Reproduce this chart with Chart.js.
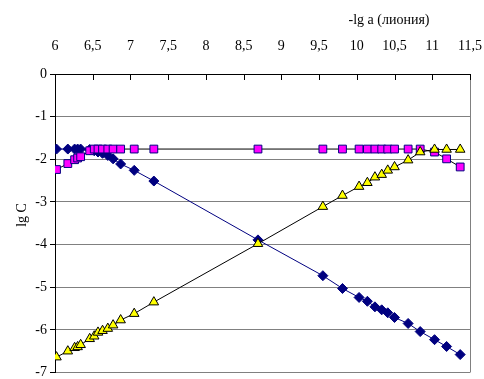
<!DOCTYPE html>
<html>
<head>
<meta charset="utf-8">
<script src="https://cdn.jsdelivr.net/npm/chart.js@4/dist/chart.umd.min.js"></script>
<style>
  html, body { margin: 0; padding: 0; background: #fff; }
  #wrap { width: 484px; height: 379px; }
</style>
</head>
<body>
<div id="wrap"><canvas id="c" width="484" height="379"></canvas></div>
<script>
// -lg a values shared by all three series
const lgA = [6.02, 6.17, 6.26, 6.30, 6.34, 6.46, 6.52, 6.57, 6.63, 6.70, 6.77, 6.87, 7.05, 7.31,
             8.69, 9.55, 9.81, 10.03, 10.14, 10.24, 10.33, 10.41, 10.50, 10.68, 10.84, 11.03, 11.19, 11.37];

// lg C for each series
const seriesDiamond = [-1.76, -1.76, -1.76, -1.76, -1.76, -1.77, -1.80, -1.83, -1.86, -1.91, -1.99, -2.11, -2.26, -2.51,
                       -3.89, -4.73, -5.03, -5.24, -5.33, -5.46, -5.53, -5.60, -5.71, -5.85, -6.04, -6.23, -6.39, -6.58];
const seriesSquare  = [-2.24, -2.10, -2.01, -1.97, -1.94, -1.80, -1.76, -1.76, -1.76, -1.76, -1.76, -1.76, -1.76, -1.76,
                       -1.76, -1.76, -1.76, -1.76, -1.76, -1.76, -1.76, -1.76, -1.76, -1.76, -1.76, -1.83, -1.99, -2.18];
const seriesTriangle = [-6.64, -6.50, -6.42, -6.40, -6.35, -6.21, -6.15, -6.06, -6.02, -5.97, -5.89, -5.77, -5.62, -5.35,
                        -3.98, -3.11, -2.85, -2.64, -2.55, -2.42, -2.36, -2.26, -2.18, -2.02, -1.83, -1.77, -1.77, -1.77];

// axis ticks
const xTicks = [6, 6.5, 7, 7.5, 8, 8.5, 9, 9.5, 10, 10.5, 11, 11.5];
const yTicks = [0, -1, -2, -3, -4, -5, -6, -7];

const xTitle = '-lg a (лиония)';
const yTitle = 'lg C';

const FONT = '"Liberation Serif", "Times New Roman", serif';

function points(ys) { return lgA.map((x, i) => ({ x: x, y: ys[i] })); }

function noOverflow(scale) {
  scale.paddingLeft = 0;
  scale.paddingRight = 0;
  scale.paddingTop = 0;
  scale.paddingBottom = 0;
}

// inward ticks on the top axis, right frame line and axis titles
const decorations = {
  id: 'decorations',
  afterDatasetsDraw(chart) {
    const ctx = chart.ctx;
    const a = chart.chartArea;
    const xs = chart.scales.x;
    ctx.save();
    ctx.strokeStyle = '#808080';
    ctx.lineWidth = 1;
    ctx.beginPath();
    ctx.moveTo(Math.round(a.right) + 0.5, a.top);
    ctx.lineTo(Math.round(a.right) + 0.5, a.bottom);
    ctx.stroke();
    ctx.strokeStyle = '#000';
    ctx.beginPath();
    xTicks.forEach(v => {
      const px = Math.round(xs.getPixelForValue(v)) + 0.5;
      ctx.moveTo(px, a.top);
      ctx.lineTo(px, a.top + 6);
    });
    ctx.stroke();
    ctx.fillStyle = '#000';
    ctx.font = '14px ' + FONT;
    ctx.textAlign = 'center';
    ctx.textBaseline = 'middle';
    ctx.fillText(xTitle, 389, 20);
    ctx.translate(22, 215);
    ctx.rotate(-Math.PI / 2);
    ctx.fillText(yTitle, 0, 0);
    ctx.restore();
  }
};

new Chart(document.getElementById('c'), {
  type: 'scatter',
  data: {
    datasets: [
      {
        label: 'triangle',
        data: points(seriesTriangle),
        showLine: true,
        borderColor: '#000000',
        borderWidth: 1,
        pointStyle: 'triangle',
        pointRadius: 5.5,
        pointBackgroundColor: '#FFFF00',
        pointBorderColor: '#000000',
        pointBorderWidth: 1,
        order: 1
      },
      {
        label: 'square',
        data: points(seriesSquare),
        showLine: true,
        borderColor: '#000000',
        borderWidth: 1,
        pointStyle: 'rect',
        pointRadius: 5.5,
        pointBackgroundColor: '#FF00FF',
        pointBorderColor: '#000080',
        pointBorderWidth: 1,
        order: 2
      },
      {
        label: 'diamond',
        data: points(seriesDiamond),
        showLine: true,
        borderColor: '#000080',
        borderWidth: 1,
        pointStyle: 'rectRot',
        pointRadius: 5,
        pointBackgroundColor: '#000080',
        pointBorderColor: '#000080',
        pointBorderWidth: 1,
        order: 3
      }
    ]
  },
  options: {
    responsive: false,
    animation: false,
    events: [],
    layout: { padding: { left: 0, right: 14, top: 0, bottom: 6 } },
    plugins: { legend: { display: false }, tooltip: { enabled: false } },
    scales: {
      x: {
        type: 'linear',
        position: 'top',
        min: 6,
        max: 11.5,
        afterBuildTicks(scale) { scale.ticks = xTicks.map(v => ({ value: v })); },
        afterFit(scale) { scale.height = 74; noOverflow(scale); },
        ticks: {
          color: '#000',
          font: { family: FONT, size: 14 },
          padding: 19,
          maxRotation: 0,
          autoSkip: false,
          callback: v => String(v).replace('.', ',')
        },
        grid: { drawOnChartArea: false, drawTicks: false },
        border: { display: true, color: '#000', width: 1 }
      },
      y: {
        type: 'linear',
        position: 'left',
        min: -7,
        max: 0,
        afterBuildTicks(scale) { scale.ticks = yTicks.map(v => ({ value: v })); },
        afterFit(scale) { scale.width = 55; noOverflow(scale); },
        ticks: {
          color: '#000',
          font: { family: FONT, size: 14 },
          padding: 3,
          callback: v => String(v)
        },
        grid: {
          color: ctx => (ctx.tick && ctx.tick.value === 0) ? 'rgba(0,0,0,0)' : '#808080',
          tickColor: '#000',
          tickLength: 5,
          lineWidth: 1
        },
        border: { display: true, color: '#000', width: 1 }
      }
    }
  },
  plugins: [decorations]
});
</script>
</body>
</html>
